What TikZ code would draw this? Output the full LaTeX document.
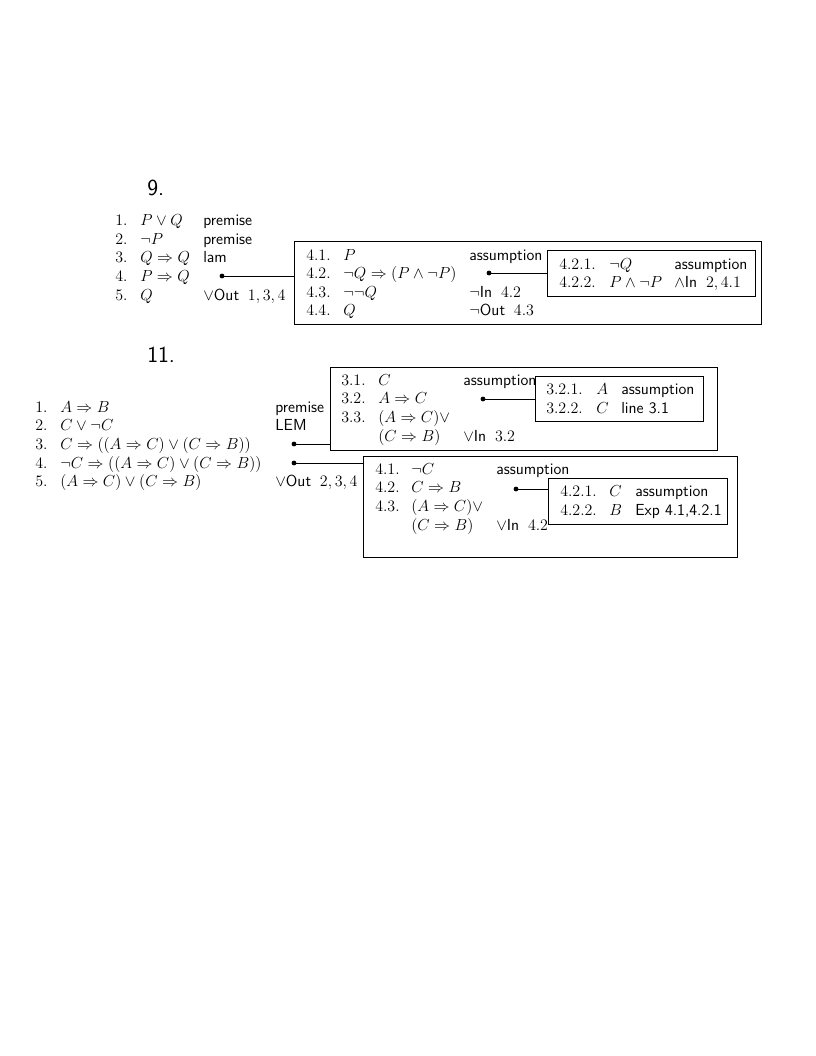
\documentclass[12pt,tikz,border=0pt]{standalone}
\usepackage{amssymb}
\begin{document}
\begin{tikzpicture}[x=0.75pt,y=-0.75pt,
  t/.style={anchor=base west,inner sep=0pt,font=\fontsize{12}{14.5}\selectfont},
  bx/.style={draw,line width=0.6pt,anchor=north west,inner sep=0pt},
  ibx/.style={bx,fill=white},
  ln/.style={line width=0.6pt},
  dt/.style={fill=black}]
\useasboundingbox (0,0) rectangle (816,1056);
\newcommand\J[1]{\textsf{#1}}
\newcommand\G{\hspace{0.55em}}
% ---------- 9 ----------
\node[t,font=\sffamily\Large] (h9) at (147,195) {9.};
\node[t] (a1n) at (115,225) {1.}; \node[t] (a1f) at (140,225) {$P\vee Q$}; \node[t] (a1j) at (203,225) {\J{premise}};
\node[t] (a2n) at (115,244) {2.}; \node[t] (a2f) at (140,244) {$\neg P$}; \node[t] (a2j) at (203,244) {\J{premise}};
\node[t] (a3n) at (115,262) {3.}; \node[t] (a3f) at (140,262) {$Q\Rightarrow Q$}; \node[t] (a3j) at (203,262) {\J{lam}};
\node[t] (a4n) at (115,281) {4.}; \node[t] (a4f) at (140,281) {$P\Rightarrow Q$};
\node[t] (a5n) at (115,300) {5.}; \node[t] (a5f) at (140,300) {$Q$}; \node[t] (a5j) at (203,300) {$\vee$\J{Out}\G$1,3,4$};
\node[bx,minimum width=467*0.75pt,minimum height=83*0.75pt] (boxA) at (294,241) {};
\node[t] (b1n) at (306,260) {4.1.}; \node[t] (b1f) at (343,260) {$P$}; \node[t] (b1j) at (469,260) {\J{assumption}};
\node[t] (b2n) at (306,278) {4.2.}; \node[t] (b2f) at (343,278) {$\neg Q\Rightarrow(P\wedge\neg P)$};
\node[t] (b3n) at (306,297) {4.3.}; \node[t] (b3f) at (343,297) {$\neg\neg Q$}; \node[t] (b3j) at (469,297) {$\neg$\J{In}\G$4.2$};
\node[t] (b4n) at (306,315) {4.4.}; \node[t] (b4f) at (343,315) {$Q$}; \node[t] (b4j) at (469,315) {$\neg$\J{Out}\G$4.3$};
\node[ibx,minimum width=208*0.75pt,minimum height=46*0.75pt] (boxB) at (547,250) {};
\node[t] (c1n) at (559,269) {4.2.1.}; \node[t] (c1f) at (609,269) {$\neg Q$}; \node[t] (c1j) at (674,269) {\J{assumption}};
\node[t] (c2n) at (559,287) {4.2.2.}; \node[t] (c2f) at (609,287) {$P\wedge\neg P$}; \node[t] (c2j) at (674,287) {$\wedge$\J{In}\G$2,4.1$};
\coordinate (d9a) at (222,276);
\coordinate (d9b) at (489,273);
\draw[ln] (d9a) -- (d9a -| boxA.west);
\fill[dt] (d9a) circle (2.4);
\draw[ln] (d9b) -- (d9b -| boxB.west);
\fill[dt] (d9b) circle (2.4);
% ---------- 11 ----------
\node[t,font=\sffamily\Large] (h11) at (147,362) {11.};
\node[t] (e1n) at (35,412) {1.}; \node[t] (e1f) at (60,412) {$A\Rightarrow B$}; \node[t] (e1j) at (275,412) {\J{premise}};
\node[t] (e2n) at (35,430) {2.}; \node[t] (e2f) at (60,430) {$C\vee\neg C$}; \node[t] (e2j) at (275,430) {\J{LEM}};
\node[t] (e3n) at (35,449) {3.}; \node[t] (e3f) at (60,449) {$C\Rightarrow((A\Rightarrow C)\vee(C\Rightarrow B))$};
\node[t] (e4n) at (35,468) {4.}; \node[t] (e4f) at (60,468) {$\neg C\Rightarrow((A\Rightarrow C)\vee(C\Rightarrow B))$};
\node[t] (e5n) at (35,486) {5.}; \node[t] (e5f) at (60,486) {$(A\Rightarrow C)\vee(C\Rightarrow B)$}; \node[t] (e5j) at (275,486) {$\vee$\J{Out}\G$2,3,4$};
% box 3
\node[bx,minimum width=387*0.75pt,minimum height=83*0.75pt] (boxC) at (330,367) {};
\node[t] (f1n) at (341,385) {3.1.}; \node[t] (f1f) at (378,385) {$C$}; \node[t] (f1j) at (463,385) {\J{assumption}};
\node[t] (f2n) at (341,403) {3.2.}; \node[t] (f2f) at (378,403) {$A\Rightarrow C$};
\node[t] (f3n) at (341,422) {3.3.}; \node[t] (f3f) at (378,422) {$(A\Rightarrow C)\vee$};
\node[t] (f4f) at (378,441) {$(C\Rightarrow B)$}; \node[t] (f4j) at (463,441) {$\vee$\J{In}\G$3.2$};
\node[ibx,minimum width=168*0.75pt,minimum height=45*0.75pt] (boxD) at (535,376) {};
\node[t] (g1n) at (546,394) {3.2.1.}; \node[t] (g1f) at (596,394) {$A$}; \node[t] (g1j) at (621,394) {\J{assumption}};
\node[t] (g2n) at (546,413) {3.2.2.}; \node[t] (g2f) at (596,413) {$C$}; \node[t] (g2j) at (621,413) {\J{line 3.1}};
% box 4
\node[bx,minimum width=374*0.75pt,minimum height=101*0.75pt] (boxE) at (363,456) {};
\node[t] (h1n) at (375,474) {4.1.}; \node[t] (h1f) at (411,474) {$\neg C$}; \node[t] (h1j) at (496,474) {\J{assumption}};
\node[t] (h2n) at (375,492) {4.2.}; \node[t] (h2f) at (411,492) {$C\Rightarrow B$};
\node[t] (h3n) at (375,511) {4.3.}; \node[t] (h3f) at (411,511) {$(A\Rightarrow C)\vee$};
\node[t] (h4f) at (411,530) {$(C\Rightarrow B)$}; \node[t] (h4j) at (496,530) {$\vee$\J{In}\G$4.2$};
\node[ibx,minimum width=179*0.75pt,minimum height=46*0.75pt] (boxF) at (548,478) {};
\node[t] (k1n) at (560,496) {4.2.1.}; \node[t] (k1f) at (609,496) {$C$}; \node[t] (k1j) at (635,496) {\J{assumption}};
\node[t] (k2n) at (560,515) {4.2.2.}; \node[t] (k2f) at (609,515) {$B$}; \node[t] (k2j) at (635,515) {\J{Exp 4.1,4.2.1}};
\coordinate (d11a) at (294,444);
\coordinate (d11b) at (294,463);
\coordinate (d11c) at (483,399);
\coordinate (d11d) at (516,489);
\draw[ln] (d11a) -- (d11a -| boxC.west); \fill[dt] (d11a) circle (2.4);
\draw[ln] (d11b) -- (d11b -| boxE.west); \fill[dt] (d11b) circle (2.4);
\draw[ln] (d11c) -- (d11c -| boxD.west); \fill[dt] (d11c) circle (2.4);
\draw[ln] (d11d) -- (d11d -| boxF.west); \fill[dt] (d11d) circle (2.4);
\end{tikzpicture}
\end{document}
